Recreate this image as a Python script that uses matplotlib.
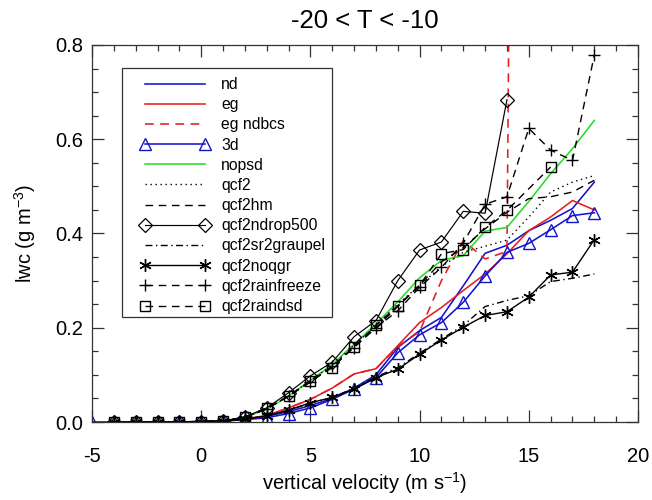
import numpy as np
import matplotlib
matplotlib.use("Agg")
import matplotlib.pyplot as plt
from matplotlib.patches import Rectangle
from matplotlib.ticker import MultipleLocator, FormatStrFormatter

plt.rcParams['font.family'] = ['Liberation Sans', 'DejaVu Sans']
plt.rcParams['mathtext.fontset'] = 'custom'
plt.rcParams['mathtext.rm'] = 'Liberation Sans'
plt.rcParams['mathtext.it'] = 'Liberation Sans:italic'
plt.rcParams['mathtext.default'] = 'regular'
plt.rcParams['axes.unicode_minus'] = False

# ---------------- data ----------------
x = list(range(-4, 19))
x_3d = list(range(-5, 19))
x_ndrop = list(range(-4, 15))
x_ndbcs = list(range(-4, 16))
x_raindsd = list(range(-4, 15)) + [16]

low = [0.0, 0.0, 0.0, 0.0, 0.001, 0.002]

nd = low + [0.006, 0.012, 0.022, 0.035, 0.050, 0.072, 0.100, 0.158, 0.194, 0.222,
            0.289, 0.358, 0.375, 0.406, 0.428, 0.453, 0.509]
eg = low + [0.006, 0.014, 0.030, 0.048, 0.072, 0.102, 0.113, 0.162, 0.211, 0.243,
            0.279, 0.314, 0.357, 0.406, 0.435, 0.470, 0.450]
eg_ndbcs = low + [0.006, 0.014, 0.030, 0.048, 0.072, 0.102, 0.113, 0.160, 0.192, 0.300,
                  0.385, 0.346, 0.362, 6.0]
d3 = [0.0] + low + [0.005, 0.009, 0.018, 0.030, 0.048, 0.070, 0.094, 0.147, 0.185, 0.211,
                    0.254, 0.310, 0.360, 0.379, 0.408, 0.438, 0.444]
nopsd = low + [0.010, 0.027, 0.055, 0.088, 0.122, 0.165, 0.208, 0.255, 0.306, 0.343,
               0.353, 0.405, 0.413, 0.468, 0.527, 0.580, 0.640]
qcf2 = low + [0.010, 0.028, 0.055, 0.088, 0.120, 0.163, 0.205, 0.250, 0.290, 0.330,
              0.360, 0.373, 0.386, 0.435, 0.488, 0.509, 0.523]
qcf2hm = low + [0.010, 0.028, 0.055, 0.085, 0.118, 0.160, 0.200, 0.245, 0.290, 0.340,
                0.370, 0.410, 0.445, 0.474, 0.478, 0.488, 0.513]
qcf2ndrop500 = low + [0.011, 0.030, 0.062, 0.098, 0.127, 0.181, 0.215, 0.300, 0.365, 0.382,
                      0.447, 0.443, 0.684]
qcf2sr2graupel = low + [0.006, 0.013, 0.025, 0.040, 0.052, 0.072, 0.096, 0.115, 0.146, 0.176,
                        0.205, 0.245, 0.258, 0.268, 0.298, 0.305, 0.314]
qcf2noqgr = low + [0.006, 0.013, 0.025, 0.041, 0.052, 0.070, 0.094, 0.112, 0.144, 0.174,
                   0.201, 0.226, 0.234, 0.265, 0.312, 0.318, 0.387]
qcf2rainfreeze = low + [0.010, 0.028, 0.055, 0.085, 0.118, 0.158, 0.200, 0.236, 0.286, 0.328,
                        0.380, 0.462, 0.478, 0.623, 0.577, 0.555, 0.779]
qcf2raindsd = low + [0.010, 0.030, 0.055, 0.088, 0.115, 0.160, 0.205, 0.247, 0.290, 0.357,
                     0.366, 0.413, 0.449, 0.541]

title = "-20 < T < -10"
xlabel = "vertical velocity (m s$^{-1}$)"
ylabel = "lwc (g m$^{-3}$)"

# ---------------- figure ----------------
fig = plt.figure(figsize=(6.52, 5.0), dpi=100)
ax = fig.add_axes([92/652, 78/500, 546/652, 377/500])

BLUE = '#1414cc'
RED = '#e41e1e'
GREEN = '#26dd26'
K = 'black'
lw = 1.0
clw = 1.15
dash = (0, (5.5, 4))
dot = (0, (1, 2.6))
dashdot = (0, (5, 2.5, 1, 2.5))

ax.plot(x, nd, color=BLUE, lw=clw, label='nd')
ax.plot(x, eg, color=RED, lw=clw, label='eg')
ax.plot(x_ndbcs, eg_ndbcs, color=RED, lw=clw, ls=dash, label='eg ndbcs')
ax.plot(x_3d, d3, color=BLUE, lw=clw, marker='^', ms=8, mfc='none', mec=BLUE, mew=1.0, label='3d')
ax.plot(x, nopsd, color=GREEN, lw=clw, label='nopsd')
ax.plot(x, qcf2, color=K, lw=lw, ls=dot, label='qcf2')
ax.plot(x, qcf2hm, color=K, lw=lw, ls=dash, label='qcf2hm')
ax.plot(x_ndrop, qcf2ndrop500, color=K, lw=lw*0.85, marker='D', ms=7, mfc='none', mec=K, mew=0.9,
        label='qcf2ndrop500')
ax.plot(x, qcf2sr2graupel, color=K, lw=lw, ls=dashdot, label='qcf2sr2graupel')
ax.plot(x, qcf2noqgr, color=K, lw=lw, marker=(6, 2, 0), ms=9, mec=K, mew=1.0, label='qcf2noqgr')
ax.plot(x, qcf2rainfreeze, color=K, lw=lw, ls=dash, marker='+', ms=8.5, mec=K, mew=1.0,
        label='qcf2rainfreeze')
ax.plot(x_raindsd, qcf2raindsd, color=K, lw=lw, ls=dash, marker='s', ms=7, mfc='none', mec=K,
        mew=1.0, label='qcf2raindsd')

ax.set_xlim(-5, 20)
ax.set_ylim(0, 0.8)
ax.xaxis.set_major_locator(MultipleLocator(5))
ax.xaxis.set_minor_locator(MultipleLocator(1))
ax.yaxis.set_major_locator(MultipleLocator(0.2))
ax.yaxis.set_minor_locator(MultipleLocator(0.05))
ax.yaxis.set_major_formatter(FormatStrFormatter('%.1f'))
ax.tick_params(which='both', direction='in', top=True, right=True, color='#333333', width=0.9)
ax.tick_params(which='major', length=8.5)
ax.tick_params(which='minor', length=4.5)
ax.tick_params(axis='x', which='major', labelsize=14.5, pad=18)
ax.tick_params(axis='y', which='major', labelsize=14.5, pad=6.5)
for s in ax.spines.values():
    s.set_linewidth(0.9)
    s.set_color('#333333')

ax.set_title(title, fontsize=18.5, pad=12)
ax.set_xlabel(xlabel, fontsize=14.5, labelpad=3)
ax.set_ylabel(ylabel, fontsize=14.5, labelpad=12)

# legend frame
ax.add_patch(Rectangle((0.0549, 0.2785), 0.3847, 0.6605, transform=ax.transAxes,
                       fill=False, edgecolor='#333333', lw=0.9, zorder=5))
leg = ax.legend(loc='upper left', bbox_to_anchor=(0.0879, 0.915), frameon=False,
                borderpad=0, borderaxespad=0, fontsize=11.3, handlelength=4.46,
                handletextpad=0.7, labelspacing=0.33, numpoints=2)

fig.savefig('out.png', dpi=100)
